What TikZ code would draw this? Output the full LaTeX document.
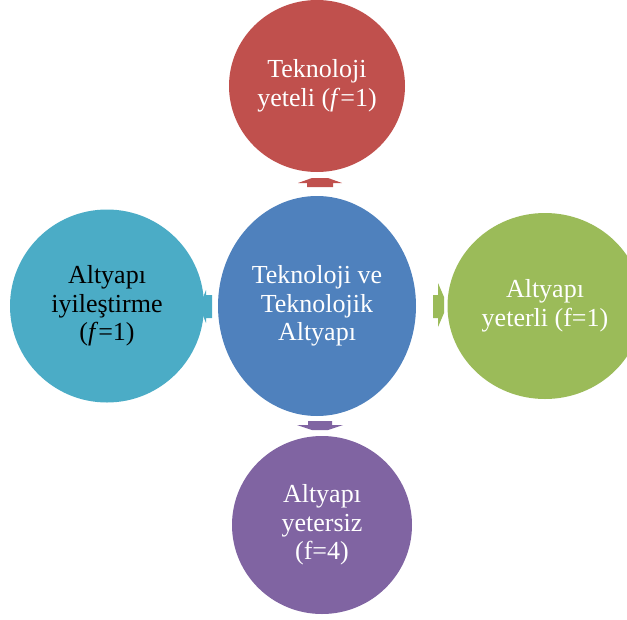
\documentclass[tikz,border=0pt]{standalone}
\usepackage{fontspec}
\setmainfont{Liberation Serif}
\usetikzlibrary{shapes.geometric}
\definecolor{cred}{HTML}{C0504D}
\definecolor{cblue}{HTML}{4F81BD}
\definecolor{cgreen}{HTML}{9BBB59}
\definecolor{cpurple}{HTML}{8064A2}
\definecolor{ccyan}{HTML}{4BACC6}
\begin{document}
\begin{tikzpicture}[x=1pt,y=-1pt,
  bubble/.style={ellipse, inner sep=0pt, align=center, text=white,
    font=\fontsize{26}{28.5}\selectfont}]
\useasboundingbox (0,0) rectangle (627,619);
\begin{scope}
\clip (0,0) rectangle (627,619);
% hub and its four surrounding states
\node[bubble, fill=cblue, minimum width=198pt, minimum height=220pt] (hub) at (317,306) {Teknoloji ve\\Teknolojik\\Altyapı};
\node[bubble, fill=cred, minimum width=176pt, minimum height=172pt] (top) at (317,86) {Teknoloji\\yeteli (\textit{f}=1)};
\node[bubble, fill=ccyan, text=black, minimum width=194pt, minimum height=193pt] (left) at (107,306) {Altyapı\\iyileştirme\\(\textit{f}=1)};
\node[bubble, fill=cgreen, minimum width=195pt, minimum height=186pt] (right) at (545,306) {Altyapı\\yeterli (f=1)};
\node[bubble, fill=cpurple, minimum width=180pt, minimum height=178pt] (bottom) at (322,525) {Altyapı\\yetersiz\\(f=4)};
\end{scope}
% small block arrows pointing from the hub outwards
\fill[cred] (307,187) -- (307,183) -- (298,183) -- (312,178) -- (328,178) -- (342,183) -- (333,183) -- (333,187) -- cycle;
\fill[ccyan] (212,295) -- (206,295) -- (206,290) -- (202,300) -- (202,313) -- (206,323) -- (206,318) -- (212,318) -- cycle;
\fill[cgreen] (433,295) -- (438,295) -- (438,283) -- (444,297) -- (444,313) -- (438,327) -- (438,318) -- (433,318) -- cycle;
\fill[cpurple] (308,421) -- (308,425) -- (297,425) -- (312,430) -- (328,430) -- (343,425) -- (332,425) -- (332,421) -- cycle;
\end{tikzpicture}
\end{document}
